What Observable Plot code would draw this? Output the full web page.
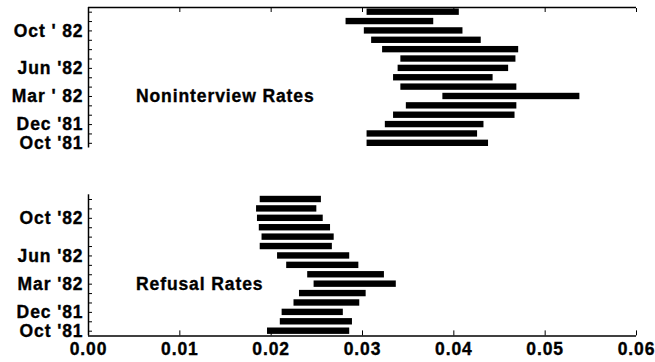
<!DOCTYPE html>
<html>
<head>
<meta charset="utf-8">
<script src="https://cdn.jsdelivr.net/npm/d3@7"></script>
<script src="https://cdn.jsdelivr.net/npm/@observablehq/plot@0.6"></script>
<style>
  html, body { margin: 0; padding: 0; background: #fff; }
  #chart svg { display: block; }
  #chart svg text { stroke: #000; stroke-width: 0.35px; }
</style>
</head>
<body>
<div id="chart"></div>
<script>
// Months, bottom (Oct '81) to top (Dec '82)
const months = ["Oct '81","Nov '81","Dec '81","Jan '82","Feb '82","Mar '82","Apr '82","May '82","Jun '82","Jul '82","Aug '82","Sep '82","Oct '82","Nov '82","Dec '82"];

// Noninterview rate intervals
const nonLow  = [0.0305,0.0305,0.0325,0.0334,0.0348,0.0388,0.0342,0.0334,0.0339,0.0342,0.0322,0.0310,0.0302,0.0282,0.0305];
const nonHigh = [0.0438,0.0426,0.0433,0.0467,0.0469,0.0538,0.0469,0.0443,0.0460,0.0468,0.0471,0.0430,0.0410,0.0378,0.0406];

// Refusal rate intervals
const refLow  = [0.0196,0.0210,0.0212,0.0225,0.0231,0.0247,0.0240,0.0217,0.0207,0.0188,0.0190,0.0187,0.0185,0.0184,0.0188];
const refHigh = [0.0286,0.0289,0.0279,0.0297,0.0304,0.0337,0.0324,0.0296,0.0286,0.0267,0.0269,0.0265,0.0257,0.0250,0.0255];

// Tick labels
const labeledIdx = [0, 2, 5, 8, 12];
const topLabels = ["Oct '81", "Dec '81", "Mar ' 82", "Jun '82", "Oct ' 82"];
const bottomLabels = ["Oct '81", "Dec '81", "Mar '82", "Jun '82", "Oct '82"];
const xTicks = [0, 0.01, 0.02, 0.03, 0.04, 0.05, 0.06];

const panelTitles = ["Noninterview Rates", "Refusal Rates"];

const style = {
  fontFamily: "'Liberation Sans', Arial, Helvetica, sans-serif",
  fontSize: "17.5px",
  fontWeight: "bold",
  letterSpacing: "0.9px",
  color: "#000",
  background: "#fff"
};

function rows(lo, hi) {
  return months.map((m, i) => ({month: m, i, lo: lo[i], hi: hi[i]}));
}

function panel({lo, hi, labels, title, height, marginTop, marginBottom, top}) {
  const data = rows(lo, hi);
  const idx = d3.range(months.length);
  const marks = [
    Plot.ruleX([0], {strokeWidth: 1.5}),
    Plot.axisY({ticks: idx, tickSize: -4, tickFormat: () => "", label: null}),
    Plot.axisY({ticks: labeledIdx, tickFormat: (d) => labels[labeledIdx.indexOf(d)], tickSize: 0, tickPadding: 5, label: null}),
    Plot.rect(data, {x1: "lo", x2: "hi", y1: (d) => d.i - 0.34, y2: (d) => d.i + 0.34, fill: "#000"}),
    Plot.text([title], {x: 0.0052, y: 5, text: (d) => d, textAnchor: "start", fill: "#000"})
  ];
  if (top) {
    marks.push(Plot.ruleY([months.length - 0.5], {strokeWidth: 1.5}));
    marks.push(Plot.axisX({anchor: "top", ticks: xTicks, tickSize: -4, tickFormat: () => "", label: null}));
  } else {
    marks.push(Plot.ruleY([-0.5], {strokeWidth: 1.5}));
    marks.push(Plot.axisX({anchor: "bottom", ticks: xTicks, tickSize: -5, tickFormat: () => "", label: null}));
    marks.push(Plot.axisX({anchor: "bottom", ticks: xTicks, tickSize: 0, tickPadding: 7, tickFormat: d3.format(".2f"), label: null}));
  }
  return Plot.plot({
    width: 655,
    height,
    marginLeft: 88,
    marginRight: 19,
    marginTop,
    marginBottom,
    style,
    x: {domain: [0, 0.06]},
    y: {domain: [-0.5, months.length - 0.5]},
    marks
  });
}

const chart = document.getElementById("chart");
chart.append(panel({lo: nonLow, hi: nonHigh, labels: topLabels, title: panelTitles[0], height: 175, marginTop: 7, marginBottom: 27.5, top: true}));
chart.append(panel({lo: refLow, hi: refHigh, labels: bottomLabels, title: panelTitles[1], height: 187, marginTop: 19.3, marginBottom: 26.6, top: false}));
</script>
</body>
</html>
